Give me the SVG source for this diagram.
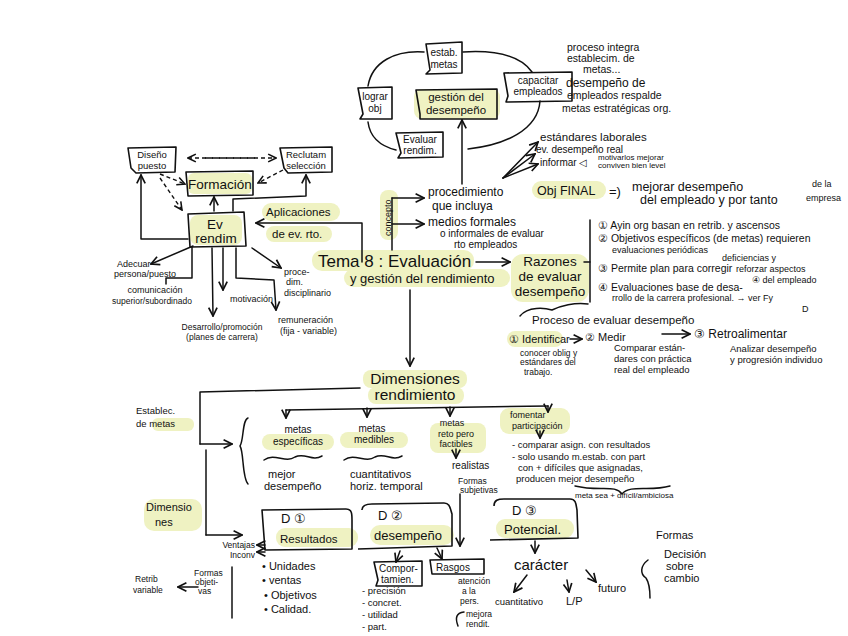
<svg xmlns="http://www.w3.org/2000/svg" width="848" height="636" viewBox="0 0 848 636" font-size="10">
<defs>
<marker id="ah" viewBox="0 0 10 10" refX="9" refY="5" markerWidth="7" markerHeight="7" orient="auto-start-reverse"><path d="M1,1 L9,5 L1,9" fill="none" stroke="#111" stroke-width="1.6"/></marker>
<style>
text{font-family:"Liberation Sans",Arial,sans-serif;fill:#111}
.t{text-anchor:middle}
.b{font-size:12px}
.s{font-size:9px}
.hl{fill:#eff2c2;stroke:none}
.box{fill:none;stroke:#111;stroke-width:1.6;stroke-linejoin:round}
.ln{fill:none;stroke:#111;stroke-width:1.5;stroke-linecap:round;stroke-linejoin:round}
.ar{fill:none;stroke:#111;stroke-width:1.5;stroke-linecap:round;stroke-linejoin:round;marker-end:url(#ah)}
.da{fill:none;stroke:#111;stroke-width:1.4;stroke-dasharray:4 3;marker-end:url(#ah)}
</style>
</defs>
<rect width="848" height="636" fill="#fff"/>

<!-- highlights (behind everything) -->
<g id="highlights">
<rect class="hl" x="414" y="89" width="86" height="30" rx="8"/>
<rect class="hl" x="532" y="181" width="74" height="18" rx="9"/>
<rect class="hl" x="380" y="190" width="18" height="50" rx="8"/>
<rect class="hl" x="312" y="250" width="162" height="21" rx="10"/>
<rect class="hl" x="344" y="269" width="166" height="18" rx="9"/>
<rect class="hl" x="511" y="254" width="78" height="48" rx="12"/>
<rect class="hl" x="262" y="203" width="78" height="18" rx="9"/>
<rect class="hl" x="266" y="226" width="66" height="16" rx="8"/>
<rect class="hl" x="188" y="173" width="64" height="21" rx="6"/>
<rect class="hl" x="190" y="215" width="52" height="30" rx="8"/>
<rect class="hl" x="507" y="331" width="56" height="16" rx="8"/>
<rect class="hl" x="363" y="370" width="104" height="18" rx="8"/>
<rect class="hl" x="368" y="387" width="96" height="17" rx="8"/>
<rect class="hl" x="152" y="418" width="42" height="13" rx="6"/>
<rect class="hl" x="144" y="499" width="58" height="32" rx="10"/>
<rect class="hl" x="262" y="434" width="72" height="16" rx="8"/>
<rect class="hl" x="340" y="432" width="68" height="16" rx="8"/>
<rect class="hl" x="430" y="423" width="56" height="30" rx="8"/>
<rect class="hl" x="500" y="408" width="70" height="26" rx="9"/>
<rect class="hl" x="276" y="528" width="82" height="19" rx="9"/>
<rect class="hl" x="370" y="525" width="84" height="20" rx="10"/>
<rect class="hl" x="496" y="519" width="78" height="19" rx="9"/>
</g>

<!-- connectors -->
<g id="connectors">
<path class="ln" d="M368,86 C372,62 395,50 424,52"/>
<path class="ln" d="M463,52 C495,50 520,55 532,72"/>
<path class="ln" d="M540,101 C538,130 505,145 468,149"/>
<path class="ln" d="M368,122 C370,138 380,146 396,150"/>
<path class="ar" d="M462,184 L462,120"/>
<path class="ar" d="M503,178 L538,142"/>
<path class="ar" d="M503,178 L535,154"/>
<path class="ar" d="M503,178 L538,164"/>
<path class="ln" d="M392,198 L392,250"/>
<path class="ar" d="M392,198 L424,198"/>
<path class="ar" d="M392,224 L424,224"/>
<path class="ar" d="M476,262 L510,262"/>
<path class="ln" d="M590,220 L590,302"/>
<path class="ln" d="M590,262 L584,262"/>
<path class="ar" d="M362,262 L362,223 L256,223"/>
<path class="ar" d="M410,290 L410,366"/>
<path class="da" d="M255,158 L188,158"/>
<path class="da" d="M205,158 L276,158"/>
<path class="da" d="M283,170 L258,183"/>
<path class="da" d="M160,174 L185,184"/>
<path class="da" d="M160,178 L182,210"/>
<path class="ar" d="M214,211 L214,197"/>
<path class="ar" d="M188,239 L141,239 L141,175"/>
<path class="ar" d="M233,211 L233,199 L306,196 L306,175"/>
<path class="ar" d="M193,246 L151,264"/>
<path class="ln" d="M192,247 L192,278 L166,278 L166,284"/>
<path class="ar" d="M212,248 L213,316"/>
<path class="ar" d="M223,248 L223,290"/>
<path class="ar" d="M236,248 L236,278 L274,280 L276,310"/>
<path class="ar" d="M252,248 L281,268"/>
<path class="ln" d="M520,316 C528,306 545,308 552,310 C560,306 575,302 588,304"/>
<path class="ar" d="M570,339 L582,339"/>
<path class="ar" d="M662,334 L690,334"/>
<path class="ln" d="M360,388 L200,392 L200,444"/>
<path class="ar" d="M200,444 L232,444"/>
<path class="ln" d="M248,418 C242,420 244,440 240,446 C244,452 242,478 248,484"/>
<path class="ln" d="M206,450 L206,535"/>
<path class="ar" d="M206,535 L242,535"/>
<path class="ln" d="M286,410 L548,406"/>
<path class="ar" d="M286,410 L286,418"/>
<path class="ar" d="M367,408 L367,417"/>
<path class="ar" d="M450,407 L450,416"/>
<path class="ar" d="M548,406 L548,412"/>
<path class="ln" d="M264,460 C275,452 285,464 295,457 C305,452 312,462 322,456"/>
<path class="ln" d="M344,460 C355,452 365,464 375,457 C385,452 392,462 402,456"/>
<path class="ar" d="M456,449 L456,458"/>
<path class="ar" d="M540,431 L540,438"/>
<path class="ln" d="M575,486 C600,492 615,484 622,494 C630,484 650,492 670,486"/>
<path class="ar" d="M460,494 L460,546"/>
<path class="ar" d="M265,545 L257,545"/>
<path class="ar" d="M265,552 L257,552"/>
<path class="ln" d="M232,567 L232,618"/>
<path class="ar" d="M198,587 L178,587"/>
<path class="ar" d="M400,551 L396,562"/>
<path class="ar" d="M437,548 L442,559"/>
<path class="ln" d="M458,626 C455,618 456,613 464,612"/>
<path class="ar" d="M535,541 L535,553"/>
<path class="ar" d="M527,575 L514,592"/>
<path class="ar" d="M567,580 L569,592"/>
<path class="ar" d="M586,570 L596,582"/>
<path class="ln" d="M648,560 C640,566 640,574 646,578 C650,584 650,592 650,598"/>
</g>

<g id="estab-metas"><path class="box" d="M426,44 L462,42 L462,73 L426,74 L430,70 Z"/><text class="t" x="444" y="56">estab.</text><text class="t" x="444" y="68">metas</text></g>
<g id="capacitar"><path class="box" d="M504,73 L572,72 L572,101 L506,102 L508,96 Z"/><text class="t" x="538" y="84">capacitar</text><text class="t" x="538" y="95">empleados</text></g>
<g id="lograr"><path class="box" d="M358,88 L392,87 L392,119 L360,119 L363,114 Z"/><text class="t" x="375" y="100">lograr</text><text class="t" x="375" y="112">obj</text></g>
<g id="gestion"><path class="box" d="M416,90 L497,89 L497,119 L420,119 L420,114 Z"/><text class="t" x="456" y="101" font-size="11.5">gestión del</text><text class="t" x="456" y="114" font-size="11.5">desempeño</text></g>
<g id="evaluar"><path class="box" d="M396,133 L443,132 L443,157 L398,158 L401,153 Z"/><text class="t" x="420" y="143">Evaluar</text><text class="t" x="420" y="154">rendim.</text></g>
<g id="proceso-integra"><text x="567" y="51" font-size="10.5">proceso integra</text><text x="567" y="62" font-size="10.5">establecim. de</text><text x="583" y="73" font-size="10.5">metas...</text><text x="566" y="87" font-size="12">desempeño de</text><text x="567" y="99" font-size="10.5">empleados respalde</text><text x="562" y="112" font-size="10.5">metas estratégicas org.</text></g>
<g id="estandares"><text x="540" y="141" font-size="11.5">estándares laborales</text><text x="536" y="153">ev. desempeño real</text><text x="540" y="166">informar ◁</text><text x="598" y="160" font-size="8">motivarlos mejorar</text><text x="598" y="168" font-size="8">conviven bien level</text></g>
<g id="obj-final"><text x="537" y="195" font-size="12.5">Obj FINAL</text><text x="609" y="196" font-size="13">=)</text><text x="632" y="191" font-size="12.5">mejorar desempeño</text><text x="640" y="204" font-size="12.5">del empleado y por tanto</text><text x="812" y="187" class="s">de la</text><text x="806" y="201" class="s">empresa</text></g>

<g id="concepto"><text x="0" y="0" font-size="9" transform="translate(391,236) rotate(-90)">concepto</text>
<text x="428" y="196" class="b">procedimiento</text><text x="432" y="210" class="b">que incluya</text>
<text x="428" y="226" class="b">medios formales</text><text x="440" y="237">o informales de evaluar</text><text x="454" y="248">rto empleados</text></g>

<g id="razones-list"><text x="598" y="229" font-size="10.5">① Ayin org basan en retrib. y ascensos</text><text x="598" y="242" font-size="10.5">② Objetivos específicos (de metas) requieren</text><text x="612" y="253" class="s">evaluaciones periódicas</text><text x="722" y="261" class="s">deficiencias y</text><text x="598" y="272" font-size="10.5">③ Permite plan para corregir</text><text x="736" y="272" class="s">reforzar aspectos</text><text x="752" y="283" class="s">④ del empleado</text><text x="598" y="291" font-size="10.5">④ Evaluaciones base de desa-</text><text x="612" y="301" class="s">rrollo de la carrera profesional. → ver Fy</text><text x="802" y="312" class="s">D</text></g>

<g id="tema8"><text x="318" y="267" font-size="17">Tema 8 : Evaluación</text><text x="350" y="283" font-size="13">y gestión del rendimiento</text></g>
<g id="razones"><text class="t" x="550" y="266" font-size="13.5">Razones</text><text class="t" x="550" y="281" font-size="13.5">de evaluar</text><text class="t" x="550" y="296" font-size="13.5">desempeño</text></g>
<g id="aplicaciones"><text x="266" y="216" font-size="11.5">Aplicaciones</text><text x="272" y="238" font-size="11.5">de ev. rto.</text></g>

<g id="diseno"><path class="box" d="M128,148 L176,147 L175,172 L136,173 L131,168 Z"/><text class="t" x="152" y="158" font-size="9.5">Diseño</text><text class="t" x="152" y="169" font-size="9.5">puesto</text></g>
<g id="reclutam"><path class="box" d="M280,148 L332,147 L332,172 L288,173 L284,168 Z"/><text class="t" x="306" y="158" font-size="9.5">Reclutam</text><text class="t" x="306" y="169" font-size="9.5">selección</text></g>
<g id="formacion"><path class="box" d="M186,172 L253,171 L253,195 L188,196 Z"/><text class="t" x="220" y="189" font-size="13.5">Formación</text></g>
<g id="ev-rendim"><path class="box" d="M188,214 L244,212 L246,246 L190,247 Z"/><text class="t" x="215" y="229" font-size="13.5">Ev</text><text class="t" x="216" y="243" font-size="13.5">rendim</text></g>
<g id="hr-branches"><text x="117" y="267" class="s">Adecuar</text><text x="114" y="277" class="s">persona/puesto</text><text class="t s" x="155" y="293">comunicación</text><text class="t" x="152" y="304" font-size="8.5">superior/subordinado</text><text x="230" y="302" class="s">motivación</text><text class="t" x="222" y="330" font-size="8.5">Desarrollo/promoción</text><text class="t" x="222" y="340" font-size="8.5">(planes de carrera)</text><text x="278" y="323" class="s">remuneración</text><text x="280" y="334" class="s">(fija - variable)</text><text x="284" y="275" class="s">proce-</text><text x="286" y="285" class="s">dim.</text><text x="284" y="296" class="s">disciplinario</text></g>

<g id="proceso-evaluar"><text x="532" y="324" font-size="11.5">Proceso de evaluar desempeño</text><text x="509" y="343" font-size="11">① Identificar</text><text x="585" y="341" font-size="11">② Medir</text><text x="694" y="338" font-size="12">③ Retroalimentar</text><text x="520" y="356" font-size="8.5">conocer oblig y</text><text x="520" y="365" font-size="8.5">estándares del</text><text x="524" y="375" font-size="8.5">trabajo.</text><text x="614" y="351" font-size="9.5">Comparar están-</text><text x="614" y="362" font-size="9.5">dares con práctica</text><text x="614" y="373" font-size="9.5">real del empleado</text><text x="730" y="352" font-size="9.5">Analizar desempeño</text><text x="730" y="363" font-size="9.5">y progresión individuo</text></g>

<g id="dimensiones"><text class="t" x="415" y="384" font-size="15.5">Dimensiones</text><text class="t" x="415" y="400" font-size="15.5">rendimiento</text></g>
<g id="establec"><text x="136" y="414" font-size="9.5">Establec.</text><text x="136" y="427" font-size="9.5">de metas</text></g>
<g id="dimensiones-label"><text x="146" y="511" font-size="11">Dimensio</text><text x="155" y="526" font-size="11">nes</text></g>
<g id="metas-especificas"><text class="t" x="298" y="433" font-size="10">metas</text><text class="t" x="298" y="445" font-size="10">específicas</text><text x="268" y="478" font-size="11">mejor</text><text x="264" y="490" font-size="11">desempeño</text></g>
<g id="metas-medibles"><text class="t" x="372" y="432" font-size="10">metas</text><text class="t" x="374" y="443" font-size="10">medibles</text><text x="350" y="478" font-size="11">cuantitativos</text><text x="350" y="490" font-size="11">horiz. temporal</text></g>
<g id="metas-reto"><text class="t s" x="452" y="426">metas</text><text class="t" x="456" y="437" font-size="9">reto pero</text><text class="t" x="456" y="447" font-size="9">factibles</text><text x="452" y="469" font-size="10">realistas</text><text x="458" y="484" font-size="8.5">Formas</text><text x="460" y="493" font-size="8.5">subjetivas</text></g>
<g id="fomentar"><text x="510" y="418" class="s">fomentar</text><text x="512" y="429" class="s">participación</text><text x="512" y="448" font-size="9.5">- comparar asign. con resultados</text><text x="512" y="460" font-size="9.5">- solo usando m.estab. con part</text><text x="518" y="471" font-size="9.5">con + difíciles que asignadas,</text><text x="516" y="482" font-size="9.5">producen mejor desempeño</text><text x="575" y="498" font-size="8">meta sea + difícil/ambiciosa</text></g>

<g id="d1"><path class="box" d="M262,510 L346,509 C352,509 352,514 352,520 L352,549 L265,550 Z"/><text x="281" y="523" font-size="13">D ①</text><text x="280" y="543" font-size="11.5">Resultados</text><text x="255" y="548" font-size="8.5" text-anchor="end">Ventajas</text><text x="255" y="558" font-size="8.5" text-anchor="end">Inconv</text><text x="262" y="570" font-size="11">• Unidades</text><text x="262" y="584" font-size="11">• ventas</text><text x="264" y="599" font-size="11">• Objetivos</text><text x="264" y="613" font-size="11">• Calidad.</text><text x="194" y="576" font-size="8.5">Formas</text><text x="195" y="585" font-size="8.5">objeti-</text><text x="198" y="594" font-size="8.5">vas</text><text x="135" y="582" font-size="8.5">Retrib</text><text x="133" y="593" font-size="8.5">variable</text></g>
<g id="d2"><path class="box" d="M362,510 C362,505 366,504 372,504 L444,503 C450,503 450,508 452,514 L452,546 L358,549"/><text x="378" y="520" font-size="13">D ②</text><text x="374" y="540" font-size="13">desempeño</text><path class="box" d="M374,562 L422,561 L422,586 L376,586 L378,580 Z"/><text x="379" y="572">Compor-</text><text x="381" y="583">tamien.</text><path class="box" d="M430,560 L484,559 L484,574 L432,574 Z"/><text x="436" y="571">Rasgos</text><text x="362" y="594" font-size="9.5">- precisión</text><text x="362" y="606" font-size="9.5">- concret.</text><text x="362" y="618" font-size="9.5">- utilidad</text><text x="362" y="630" font-size="9.5">- part.</text><text x="458" y="584" font-size="8.5">atención</text><text x="462" y="594" font-size="8.5">a la</text><text x="460" y="604" font-size="8.5">pers.</text><text x="466" y="617" font-size="8.5">mejora</text><text x="466" y="627" font-size="8.5">rendit.</text></g>
<g id="d3"><path class="box" d="M494,506 C494,500 498,499 504,499 L570,499 C576,499 576,504 577,510 L578,538 L490,540"/><text x="512" y="515" font-size="13">D ③</text><text x="504" y="534" font-size="13">Potencial.</text><text x="514" y="570" font-size="15">carácter</text><text x="495" y="605" font-size="9.5">cuantitativo</text><text x="566" y="605" font-size="11">L/P</text><text x="598" y="592" font-size="11">futuro</text></g>
<g id="formas-decision"><text x="656" y="539" font-size="11">Formas</text><text x="664" y="558" font-size="11">Decisión</text><text x="666" y="570" font-size="11">sobre</text><text x="664" y="582" font-size="11">cambio</text></g>
</svg>
